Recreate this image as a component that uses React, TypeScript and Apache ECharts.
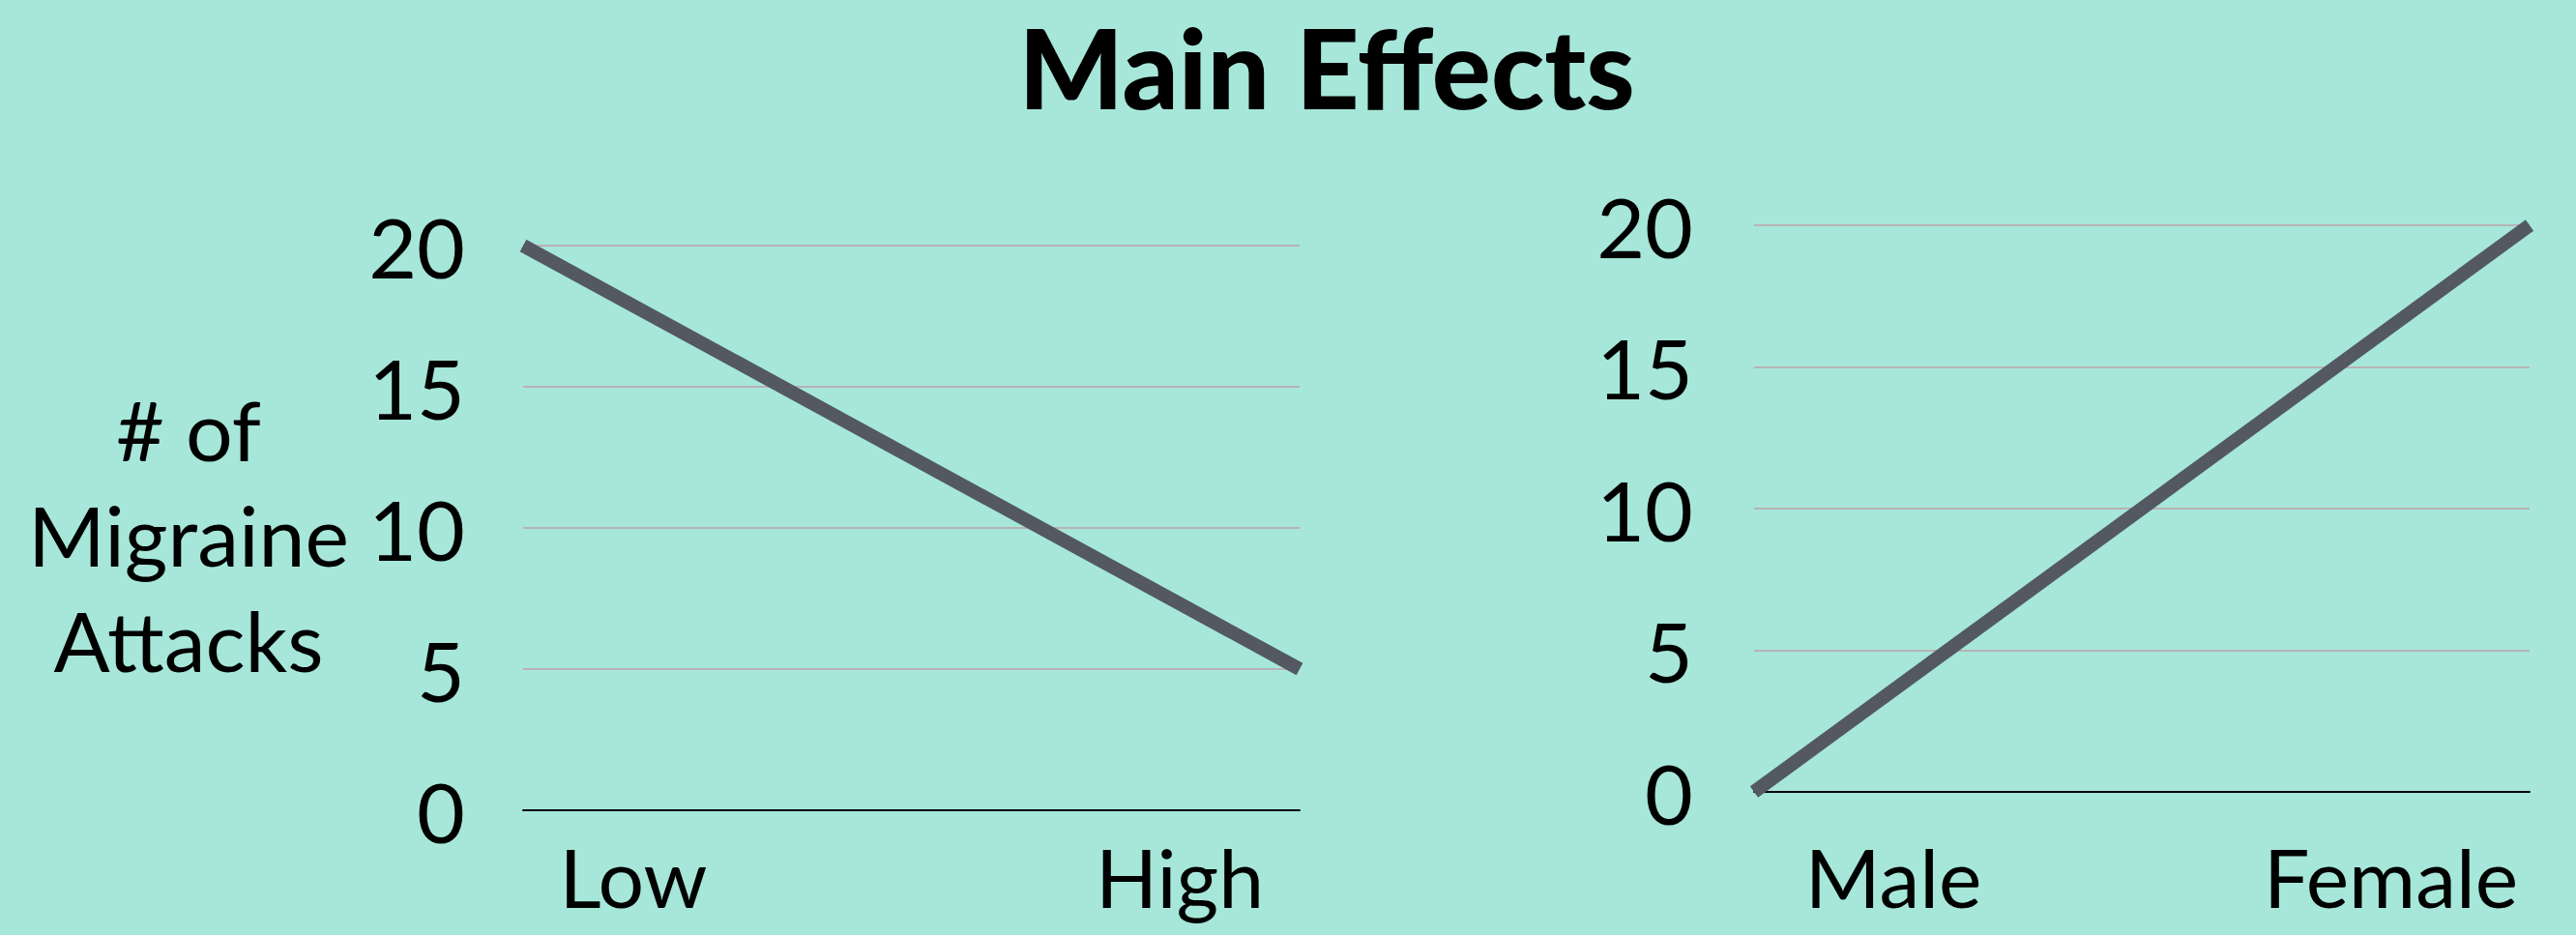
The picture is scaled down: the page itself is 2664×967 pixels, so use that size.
import React, { useEffect, useRef } from "react";
import * as echarts from "echarts";

const leftCategories = ["Low", "High"];
const leftValues = [20, 5];
const rightCategories = ["Male", "Female"];
const rightValues = [0, 20];
const yMin = 0;
const yMax = 20;
const yInterval = 5;
const titleText = "Main Effects";
const yAxisTitleLines = ["# of", "Migraine", "Attacks"];

const FONT = "Lato, 'Open Sans', sans-serif";
const BG = "#a6e7da";
const LINE_COLOR = "#535862";
const GRID_COLOR = "#b8b3b3";

function catAxis(gridIndex: number, data: string[], margin: number, padMin: number, padMax: number) {
  return {
    type: "category",
    gridIndex,
    data,
    boundaryGap: false,
    axisLine: { show: true, lineStyle: { color: "#000", width: 2 } },
    axisTick: { show: false },
    splitLine: { show: false },
    axisLabel: {
      interval: 0,
      margin,
      formatter: (v: string, i: number) => `{p${i}|${v}}`,
      rich: {
        p0: { fontSize: 84, fontFamily: FONT, color: "#000", padding: [0, 0, 0, padMin] },
        p1: { fontSize: 84, fontFamily: FONT, color: "#000", padding: [0, padMax, 0, 0] },
      },
    },
  };
}

function valAxis(gridIndex: number, margin: number) {
  return {
    type: "value",
    gridIndex,
    min: yMin,
    max: yMax,
    interval: yInterval,
    axisLine: { show: false },
    axisTick: { show: false },
    splitLine: { show: true, lineStyle: { color: GRID_COLOR, width: 2 } },
    axisLabel: {
      margin,
      fontSize: 86,
      fontFamily: FONT,
      color: "#000",
      padding: [20, 0, 0, 0],
    },
  };
}

export default function App() {
  const ref = useRef<HTMLDivElement>(null);
  useEffect(() => {
    if (!ref.current) return;
    const chart = echarts.init(ref.current, undefined, { renderer: "svg" });
    chart.setOption({
      animation: false,
      backgroundColor: BG,
      title: {
        text: titleText,
        left: 1367,
        top: 6,
        textAlign: "center",
        textStyle: {
          fontSize: 114,
          fontWeight: 900,
          fontFamily: FONT,
          color: "#000",
        },
      },
      grid: [
        { left: 541, top: 254, width: 803, height: 584 },
        { left: 1814, top: 233, width: 802, height: 586 },
      ],
      xAxis: [
        catAxis(0, leftCategories, 26, 228, 248),
        catAxis(1, rightCategories, 45, 288, 287),
      ],
      yAxis: [valAxis(0, 60), valAxis(1, 63)],
      series: [
        {
          type: "line",
          xAxisIndex: 0,
          yAxisIndex: 0,
          data: leftValues,
          symbol: "none",
          silent: true,
          lineStyle: { color: LINE_COLOR, width: 14, cap: "butt" },
        },
        {
          type: "line",
          xAxisIndex: 1,
          yAxisIndex: 1,
          data: rightValues,
          symbol: "none",
          silent: true,
          lineStyle: { color: LINE_COLOR, width: 14, cap: "butt" },
        },
      ],
      graphic: [
        {
          type: "text",
          x: 195,
          y: 552,
          style: {
            text: yAxisTitleLines.join("\n"),
            fontSize: 86,
            lineHeight: 109,
            fontFamily: FONT,
            fill: "#000",
            align: "center",
            verticalAlign: "middle",
          },
        },
      ],
    });
    return () => chart.dispose();
  }, []);
  return (
    <div
      ref={ref}
      style={{ position: "fixed", left: 0, top: 0, width: 2664, height: 967 }}
    />
  );
}
